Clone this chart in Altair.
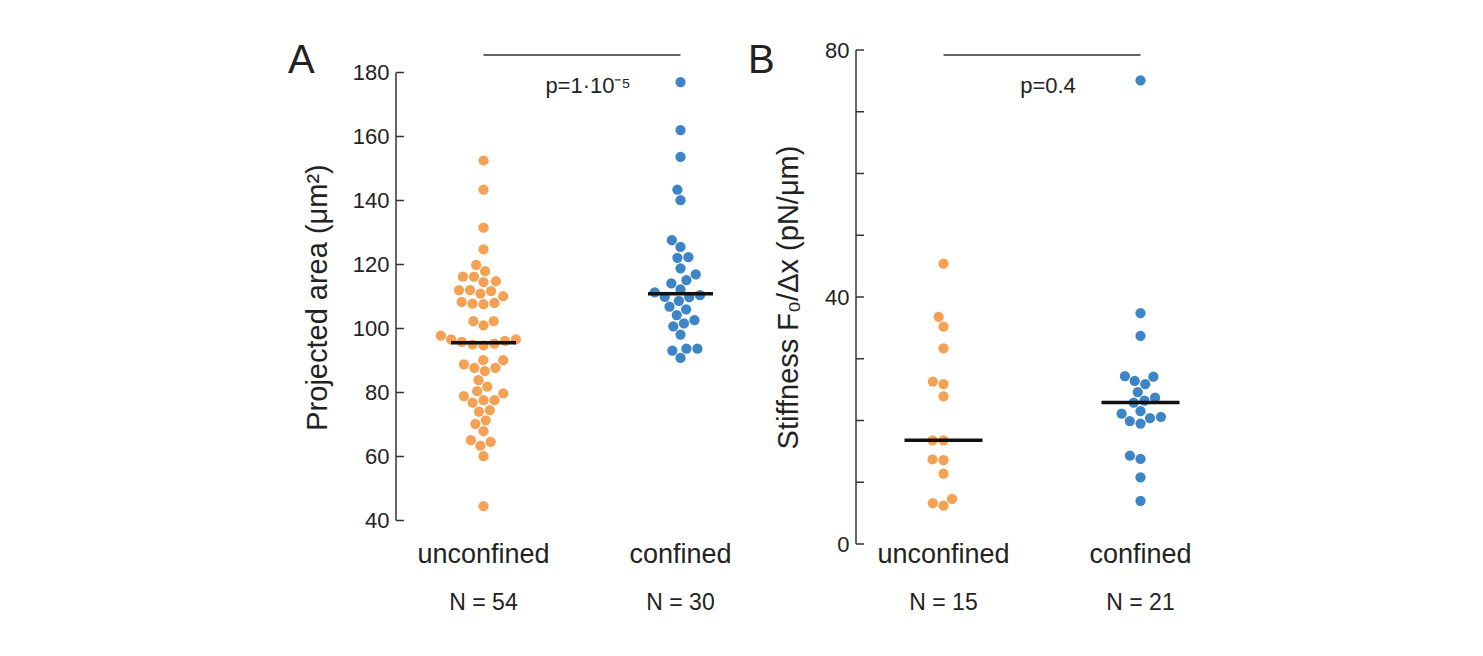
import math
import altair as alt
import pandas as pd

# ---------------- data ----------------
categories = ["unconfined", "confined"]

area_unconfined = [152.5, 143.4, 131.5, 124.7, 119.9, 117.9, 116.2, 116.2, 114.8, 114.5,
                   112.0, 112.0, 111.7, 110.9, 110.1, 108.0, 107.8, 107.6, 108.3, 102.3,
                   102.3, 101.0, 97.8, 96.1, 95.8, 94.7, 96.6, 95.0, 96.6, 95.3,
                   90.1, 90.1, 86.7, 87.7, 88.8, 87.7, 83.9, 81.8, 80.4, 79.7,
                   76.8, 77.6, 77.6, 78.9, 74.5, 74.0, 71.3, 70.2, 67.9, 65.1,
                   64.6, 63.4, 60.1, 44.5]
area_confined = [177.0, 162.0, 153.6, 143.4, 140.1, 127.6, 125.5, 122.1, 122.3, 118.8,
                 116.9, 114.1, 115.1, 112.2, 111.3, 109.9, 109.8, 108.6, 106.8, 106.0,
                 104.2, 102.6, 101.6, 100.7, 98.1, 93.7, 93.1, 93.7, 90.8, 110.4]

stiff_unconfined = [45.4, 36.8, 35.2, 31.7, 26.3, 25.9, 23.9, 16.8, 16.8, 13.6,
                    13.7, 11.4, 6.2, 6.6, 7.3]
stiff_confined = [75.1, 37.4, 33.7, 27.1, 26.4, 27.2, 25.9, 24.6, 23.7, 23.2,
                  22.9, 21.5, 21.1, 20.6, 20.4, 19.9, 19.5, 14.3, 13.8, 10.8, 7.0]

p_area = "p=1·10⁻⁵"
p_stiff = "p=0.4"

area_ticks = [40, 60, 80, 100, 120, 140, 160, 180]
stiff_ticks = [0, 10, 20, 30, 40, 50, 60, 70, 80]
stiff_labels = [0, 40, 80]

# ---------------- layout / style ----------------
W, H = 330, 494
CENTERS = [87.5, 284.5]
DOT = 11.0
ORANGE = "#F4A154"
BLUE = "#3D85C6"
INK = "#222222"
FONT = "Liberation Sans"


def swarm(vals, px_per_unit, d=DOT):
    """Simple beeswarm: offsets in pixels so that dots do not overlap."""
    order = sorted(range(len(vals)), key=lambda i: vals[i])
    placed = []
    offs = [0.0] * len(vals)
    for i in order:
        y = vals[i] * px_per_unit
        cands = [0.0]
        for py, px in placed:
            dy = abs(y - py)
            if dy < d:
                dx = math.sqrt(d * d - dy * dy)
                cands += [px + dx, px - dx]
        cands.sort(key=lambda c: (abs(c), c))
        for c in cands:
            if all((c - px) ** 2 + (y - py) ** 2 >= d * d - 1e-6 for py, px in placed):
                offs[i] = c
                placed.append((y, c))
                break
    return offs


def median(v):
    s = sorted(v)
    n = len(s)
    return s[n // 2] if n % 2 else 0.5 * (s[n // 2 - 1] + s[n // 2])


def panel(series, domain, px_per_unit, axis_title, tick_vals, label_vals,
          spine, letter, ptext, med_half, title_x):
    rows = []
    meds = []
    for k, (cat, vals) in enumerate(zip(categories, series)):
        offs = swarm(vals, px_per_unit)
        for v, o in zip(vals, offs):
            rows.append({"group": cat, "value": v, "x": CENTERS[k] + o})
        m = median(vals)
        meds.append({"group": cat, "x1": CENTERS[k] - med_half,
                     "x2": CENTERS[k] + med_half, "median": m,
                     "cx": CENTERS[k], "n": f"N = {len(vals)}"})
    df = pd.DataFrame(rows)
    dm = pd.DataFrame(meds)

    xs = alt.Scale(domain=[0, W])
    ys = alt.Scale(domain=domain, nice=False, zero=False)

    label_expr = "indexof([" + ",".join(str(v) for v in label_vals) + "], datum.value) >= 0 ? datum.label : ''"
    yaxis = alt.Axis(
        values=tick_vals, title=axis_title, grid=False, domain=False,
        ticks=False, tickSize=0, labelPadding=7, labelFontSize=22,
        labelColor=INK, labelFont=FONT, labelExpr=label_expr,
        titleFontSize=29, titleFont=FONT, titleFontWeight="normal",
        titleColor=INK, titleX=title_x, titleY=H / 2, titleAngle=270,
        titleAlign="center", titleBaseline="middle",
    )

    pts = alt.Chart(df).mark_circle(size=105, opacity=1).encode(
        x=alt.X("x:Q", scale=xs, axis=None),
        y=alt.Y("value:Q", scale=ys, axis=yaxis),
        color=alt.Color("group:N", scale=alt.Scale(domain=categories, range=[ORANGE, BLUE]),
                        legend=None),
    )

    med = alt.Chart(dm).mark_rule(color="#111111", strokeWidth=3.5).encode(
        x=alt.X("x1:Q", scale=xs), x2="x2:Q", y=alt.Y("median:Q", scale=ys))

    spine_df = pd.DataFrame({"lo": [spine[0]], "hi": [spine[1]]})
    spine_rule = alt.Chart(spine_df).mark_rule(color="#333333", strokeWidth=1.5).encode(
        x=alt.value(0), y=alt.Y("lo:Q", scale=ys), y2="hi:Q")

    tick_df = pd.DataFrame({"t": tick_vals})
    ticks = alt.Chart(tick_df).mark_rule(color="#333333", strokeWidth=1.5).encode(
        x=alt.value(0), x2=alt.value(8), y=alt.Y("t:Q", scale=ys))

    cat_txt = alt.Chart(dm).mark_text(fontSize=27, font=FONT, color=INK,
                                      baseline="alphabetic").encode(
        x=alt.X("cx:Q", scale=xs), y=alt.value(H + 19), text="group:N")
    n_txt = alt.Chart(dm).mark_text(fontSize=23, font=FONT, color=INK,
                                    baseline="alphabetic").encode(
        x=alt.X("cx:Q", scale=xs), y=alt.value(H + 66), text="n:N")

    bar_df = pd.DataFrame({"a": [CENTERS[0]], "b": [CENTERS[1]],
                           "m": [(CENTERS[0] + CENTERS[1]) / 2], "p": [ptext]})
    bar = alt.Chart(bar_df).mark_rule(color="#333333", strokeWidth=1.3).encode(
        x=alt.X("a:Q", scale=xs), x2="b:Q", y=alt.value(5))
    ptxt = alt.Chart(bar_df).mark_text(fontSize=22, font=FONT, color=INK,
                                       baseline="alphabetic", dx=6).encode(
        x=alt.X("m:Q", scale=xs), y=alt.value(42.5), text="p:N")

    let_df = pd.DataFrame({"l": [letter]})
    let_txt = alt.Chart(let_df).mark_text(fontSize=40, font=FONT, color=INK,
                                          align="left", baseline="alphabetic").encode(
        x=alt.value(-108), y=alt.value(23), text="l:N")

    return alt.layer(pts, med, spine_rule, ticks, cat_txt, n_txt, bar, ptxt,
                     let_txt).properties(width=W, height=H)


# panel A: 180 at y=73, 40 at y=521 -> 3.2 px per unit, plot area spans 50.5..544.5
a_dom = [40 - 23.5 / 3.2, 180 + 22.5 / 3.2]
panel_a = panel([area_unconfined, area_confined], a_dom, 3.2,
                "Projected area (μm²)", area_ticks, area_ticks, (40, 180), "A",
                p_area, 32.5, -79)

b_dom = [0, 80]
panel_b = panel([stiff_unconfined, stiff_confined], b_dom, H / 80,
                "Stiffness F₀/Δx (pN/μm)", stiff_ticks, stiff_labels, (0, 80), "B",
                p_stiff, 39, -68)

chart = alt.hconcat(panel_a, panel_b, spacing=130, bounds="flush").properties(
    padding={"left": 280, "top": 31, "right": 5, "bottom": 5},
    background="white",
).configure_view(stroke=None)

chart.save("out.html", embed_options={"renderer": "svg", "actions": False})
